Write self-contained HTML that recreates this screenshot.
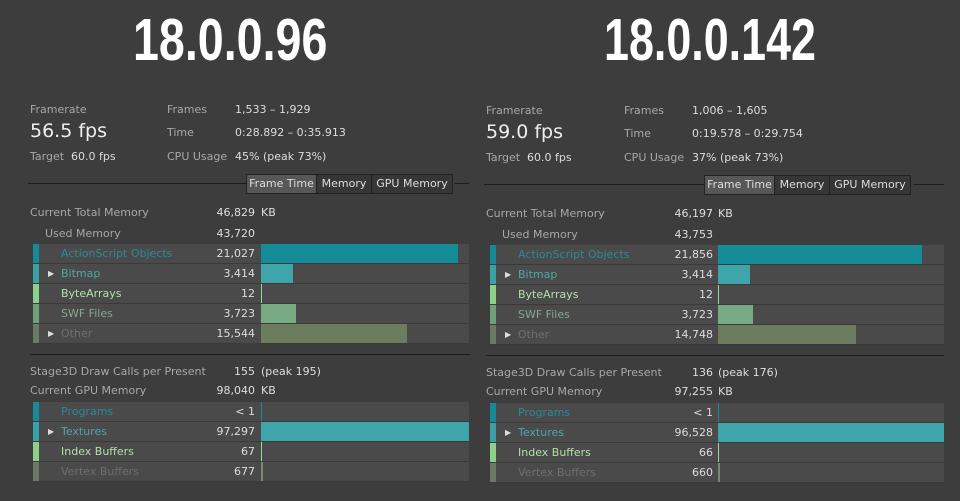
<!DOCTYPE html>
<html><head><meta charset="utf-8"><style>
*{margin:0;padding:0;box-sizing:border-box}
body{width:960px;height:500px;background:#3d3d3d;overflow:hidden;font-family:"DejaVu Sans","Liberation Sans",sans-serif;font-size:11px;color:#c8c8c8;position:relative}
.p{position:absolute;top:0;width:480px;height:500px}
.a{position:absolute;white-space:nowrap}
.t{position:absolute;top:11px;font-family:"Liberation Sans",sans-serif;font-weight:bold;font-size:59px;line-height:59px;color:#fff;transform:scaleX(0.79);transform-origin:left top;white-space:nowrap}
.lbl{color:#a8a8a8}
.hr{position:absolute;height:1px;background:#1c1c1c}
.tabs{position:absolute;left:246px;top:174px;width:207px;height:20px;background:#2a2a2a;border:1px solid #222;display:flex}
.tabs div{height:18px;line-height:17px;text-align:center;color:#ddd;background:#363636;border-right:1px solid #222}
.row{position:absolute;left:33px;width:436px;height:20px;background:#4a4a4a;border-bottom:1px solid #3a3a3a}
.row .s{position:absolute;left:0;top:0;width:6px;height:19px}
.row .n{position:absolute;left:28px;top:3px}
.row .v{position:absolute;right:214px;top:3px;color:#ddd}
.row .b{position:absolute;left:228px;top:0;height:19px}
.row .tr{position:absolute;left:15px;color:#ddd;font-size:8px;top:5px}
.num{position:absolute;text-align:right;width:80px;color:#ddd}
</style></head><body>

<!-- LEFT -->
<div class="p" style="left:0">
<div class="t" style="left:133px">18.0.0.96</div>
<div class="a lbl" style="left:30px;top:103px">Framerate</div>
<div class="a" style="left:30px;top:120px;font-size:19px;color:#eee">56.5 fps</div>
<div class="a lbl" style="left:30px;top:150px">Target <span style="color:#ddd">&nbsp;60.0 fps</span></div>
<div class="a lbl" style="left:167px;top:103px">Frames</div>
<div class="a lbl" style="left:167px;top:126px">Time</div>
<div class="a lbl" style="left:167px;top:150px">CPU Usage</div>
<div class="a" style="left:235px;top:103px;color:#ddd">1,533 – 1,929</div>
<div class="a" style="left:235px;top:126px;color:#ddd">0:28.892 – 0:35.913</div>
<div class="a" style="left:235px;top:150px;color:#ddd">45% (peak 73%)</div>
<div class="hr" style="left:28px;top:183px;width:218px"></div>
<div class="hr" style="left:455px;top:183px;width:14px"></div>
<div class="tabs"><div style="width:70px;background:#575757">Frame Time</div><div style="width:55px">Memory</div><div style="width:80px;border:0">GPU Memory</div></div>
<div class="a lbl" style="left:30px;top:206px">Current Total Memory</div>
<div class="num" style="left:175px;top:206px">46,829</div><div class="a" style="left:261px;top:206px;color:#ddd">KB</div>
<div class="a lbl" style="left:45px;top:227px">Used Memory</div>
<div class="num" style="left:175px;top:227px">43,720</div>
<div class="row" style="top:244px"><div class="s" style="background:#178a98"></div><div class="n" style="color:#2c8a98">ActionScript Objects</div><div class="v">21,027</div><div class="b" style="width:197px;background:#168c99"></div></div>
<div class="row" style="top:264px"><div class="s" style="background:#3aa1a8"></div><div class="tr">▶</div><div class="n" style="color:#4ea6a8">Bitmap</div><div class="v">3,414</div><div class="b" style="width:32px;background:#3ea6aa"></div></div>
<div class="row" style="top:284px"><div class="s" style="background:#8cd08c"></div><div class="n" style="color:#b0e0a8">ByteArrays</div><div class="v">12</div><div class="b" style="width:1px;background:#9cd69c"></div></div>
<div class="row" style="top:304px"><div class="s" style="background:#6fa07a"></div><div class="n" style="color:#86a890">SWF Files</div><div class="v">3,723</div><div class="b" style="width:35px;background:#78aa84"></div></div>
<div class="row" style="top:324px"><div class="s" style="background:#6a7a66"></div><div class="tr">▶</div><div class="n" style="color:#6e6e6e">Other</div><div class="v">15,544</div><div class="b" style="width:146px;background:#6c7c5e"></div></div>
<div class="hr" style="left:30px;top:354px;width:440px"></div>
<div class="a lbl" style="left:30px;top:365px">Stage3D Draw Calls per Present</div>
<div class="num" style="left:175px;top:365px">155</div><div class="a" style="left:261px;top:365px;color:#ddd">(peak 195)</div>
<div class="a lbl" style="left:30px;top:384px">Current GPU Memory</div>
<div class="num" style="left:175px;top:384px">98,040</div><div class="a" style="left:261px;top:384px;color:#ddd">KB</div>
<div class="row" style="top:402px"><div class="s" style="background:#178a98"></div><div class="n" style="color:#2c8a98">Programs</div><div class="v">&lt; 1</div><div class="b" style="width:1px;background:#168c99"></div></div>
<div class="row" style="top:422px"><div class="s" style="background:#3aa1a8"></div><div class="tr">▶</div><div class="n" style="color:#4ea6a8">Textures</div><div class="v">97,297</div><div class="b" style="width:208px;background:#3ea6aa"></div></div>
<div class="row" style="top:442px"><div class="s" style="background:#8cd08c"></div><div class="n" style="color:#b0e0a8">Index Buffers</div><div class="v">67</div><div class="b" style="width:1px;background:#9cd69c"></div></div>
<div class="row" style="top:462px"><div class="s" style="background:#6a7a66"></div><div class="n" style="color:#6e6e6e">Vertex Buffers</div><div class="v">677</div><div class="b" style="width:2px;background:#7a8a76"></div></div>
</div>

<!-- RIGHT -->
<div class="p" style="left:456px;top:1px">
<div class="t" style="left:148px;top:10px;transform:scaleX(0.76)">18.0.0.142</div>
<div class="a lbl" style="left:30px;top:103px">Framerate</div>
<div class="a" style="left:30px;top:120px;font-size:19px;color:#eee">59.0 fps</div>
<div class="a lbl" style="left:30px;top:150px">Target <span style="color:#ddd">&nbsp;60.0 fps</span></div>
<div class="a lbl" style="left:168px;top:103px">Frames</div>
<div class="a lbl" style="left:168px;top:126px">Time</div>
<div class="a lbl" style="left:168px;top:150px">CPU Usage</div>
<div class="a" style="left:236px;top:103px;color:#ddd">1,006 – 1,605</div>
<div class="a" style="left:236px;top:126px;color:#ddd">0:19.578 – 0:29.754</div>
<div class="a" style="left:236px;top:150px;color:#ddd">37% (peak 73%)</div>
<div class="hr" style="left:28px;top:183px;width:220px"></div>
<div class="hr" style="left:458px;top:183px;width:30px"></div>
<div class="tabs" style="left:248px"><div style="width:70px;background:#575757">Frame Time</div><div style="width:55px">Memory</div><div style="width:80px;border:0">GPU Memory</div></div>
<div class="a lbl" style="left:30px;top:206px">Current Total Memory</div>
<div class="num" style="left:177px;top:206px">46,197</div><div class="a" style="left:262px;top:206px;color:#ddd">KB</div>
<div class="a lbl" style="left:46px;top:227px">Used Memory</div>
<div class="num" style="left:177px;top:227px">43,753</div>
<div class="row" style="left:34px;width:454px;top:244px"><div class="s" style="background:#178a98"></div><div class="n" style="color:#2c8a98">ActionScript Objects</div><div class="v" style="right:231px">21,856</div><div class="b" style="width:204px;background:#168c99"></div></div>
<div class="row" style="left:34px;width:454px;top:264px"><div class="s" style="background:#3aa1a8"></div><div class="tr">▶</div><div class="n" style="color:#4ea6a8">Bitmap</div><div class="v" style="right:231px">3,414</div><div class="b" style="width:32px;background:#3ea6aa"></div></div>
<div class="row" style="left:34px;width:454px;top:284px"><div class="s" style="background:#8cd08c"></div><div class="n" style="color:#b0e0a8">ByteArrays</div><div class="v" style="right:231px">12</div><div class="b" style="width:1px;background:#9cd69c"></div></div>
<div class="row" style="left:34px;width:454px;top:304px"><div class="s" style="background:#6fa07a"></div><div class="n" style="color:#86a890">SWF Files</div><div class="v" style="right:231px">3,723</div><div class="b" style="width:35px;background:#78aa84"></div></div>
<div class="row" style="left:34px;width:454px;top:324px"><div class="s" style="background:#6a7a66"></div><div class="tr">▶</div><div class="n" style="color:#6e6e6e">Other</div><div class="v" style="right:231px">14,748</div><div class="b" style="width:138px;background:#6c7c5e"></div></div>
<div class="hr" style="left:30px;top:354px;width:458px"></div>
<div class="a lbl" style="left:30px;top:365px">Stage3D Draw Calls per Present</div>
<div class="num" style="left:177px;top:365px">136</div><div class="a" style="left:262px;top:365px;color:#ddd">(peak 176)</div>
<div class="a lbl" style="left:30px;top:384px">Current GPU Memory</div>
<div class="num" style="left:177px;top:384px">97,255</div><div class="a" style="left:262px;top:384px;color:#ddd">KB</div>
<div class="row" style="left:34px;width:454px;top:402px"><div class="s" style="background:#178a98"></div><div class="n" style="color:#2c8a98">Programs</div><div class="v" style="right:231px">&lt; 1</div><div class="b" style="width:1px;background:#168c99"></div></div>
<div class="row" style="left:34px;width:454px;top:422px"><div class="s" style="background:#3aa1a8"></div><div class="tr">▶</div><div class="n" style="color:#4ea6a8">Textures</div><div class="v" style="right:231px">96,528</div><div class="b" style="width:226px;background:#3ea6aa"></div></div>
<div class="row" style="left:34px;width:454px;top:442px"><div class="s" style="background:#8cd08c"></div><div class="n" style="color:#b0e0a8">Index Buffers</div><div class="v" style="right:231px">66</div><div class="b" style="width:1px;background:#9cd69c"></div></div>
<div class="row" style="left:34px;width:454px;top:462px"><div class="s" style="background:#6a7a66"></div><div class="n" style="color:#6e6e6e">Vertex Buffers</div><div class="v" style="right:231px">660</div><div class="b" style="width:2px;background:#7a8a76"></div></div>
</div>
</body></html>
